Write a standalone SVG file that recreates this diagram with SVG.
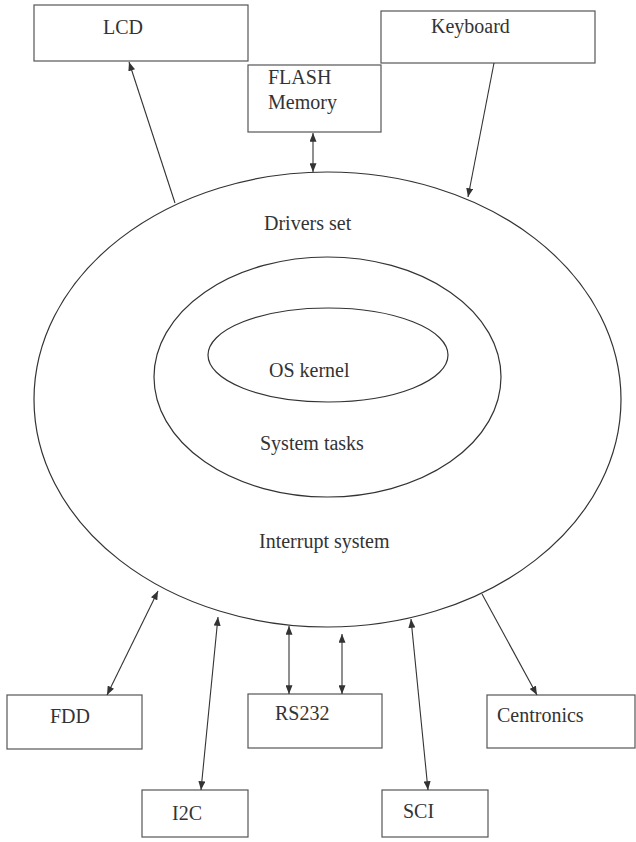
<svg xmlns="http://www.w3.org/2000/svg" width="636" height="842" viewBox="0 0 636 842">
<style>
.box{fill:none;stroke:#555;stroke-width:1.2}
.ell{fill:none;stroke:#333;stroke-width:1.2}
.lbl{font-family:"Liberation Serif","Times New Roman",serif;font-size:20px;fill:#333}
.c{stroke:#333;stroke-width:1.1;fill:none}
</style>
<defs>
<marker id="ah" viewBox="0 0 10 8" refX="10" refY="4" markerWidth="9" markerHeight="7" markerUnits="userSpaceOnUse" orient="auto-start-reverse">
<path d="M0,0 L10,4 L0,8 z" fill="#333"/>
</marker>
</defs>
<rect width="636" height="842" fill="#fff"/>
<g id="core">
<ellipse class="ell" cx="327.5" cy="399.5" rx="293.5" ry="227.5"/>
<ellipse class="ell" cx="327.5" cy="377" rx="173.5" ry="120"/>
<ellipse class="ell" cx="328" cy="355" rx="120" ry="47"/>
<text class="lbl" x="264" y="230">Drivers set</text>
<text class="lbl" x="269" y="377">OS kernel</text>
<text class="lbl" x="260" y="450">System tasks</text>
<text class="lbl" x="259" y="548">Interrupt system</text>
</g>
<g id="lcd"><rect class="box" x="34" y="5" width="214" height="56"/><text class="lbl" x="103" y="34">LCD</text></g>
<g id="keyboard"><rect class="box" x="381" y="11" width="214" height="52"/><text class="lbl" x="431" y="33">Keyboard</text></g>
<g id="flash"><rect class="box" x="248" y="65" width="133" height="67"/><text class="lbl" x="268" y="84">FLASH</text><text class="lbl" x="268" y="109">Memory</text></g>
<g id="fdd"><rect class="box" x="7" y="695" width="135" height="54"/><text class="lbl" x="50" y="723">FDD</text></g>
<g id="rs232"><rect class="box" x="248" y="694" width="134" height="54"/><text class="lbl" x="275" y="720">RS232</text></g>
<g id="centronics"><rect class="box" x="487" y="695" width="148" height="53"/><text class="lbl" x="497" y="722">Centronics</text></g>
<g id="i2c"><rect class="box" x="142" y="790" width="106" height="47"/><text class="lbl" x="172" y="820">I2C</text></g>
<g id="sci"><rect class="box" x="382" y="790" width="106" height="47"/><text class="lbl" x="403" y="818">SCI</text></g>
<g id="connectors">
<line class="c" x1="175" y1="203" x2="129" y2="62" marker-end="url(#ah)"/>
<line class="c" x1="494" y1="63" x2="468" y2="197" marker-end="url(#ah)"/>
<line class="c" x1="313" y1="133" x2="313" y2="172" marker-start="url(#ah)" marker-end="url(#ah)"/>
<line class="c" x1="158" y1="591" x2="107" y2="695" marker-start="url(#ah)" marker-end="url(#ah)"/>
<line class="c" x1="218" y1="617" x2="201" y2="790" marker-start="url(#ah)" marker-end="url(#ah)"/>
<line class="c" x1="289" y1="626" x2="289" y2="694" marker-start="url(#ah)" marker-end="url(#ah)"/>
<line class="c" x1="342" y1="634" x2="342" y2="694" marker-start="url(#ah)" marker-end="url(#ah)"/>
<line class="c" x1="411" y1="619" x2="428" y2="790" marker-start="url(#ah)" marker-end="url(#ah)"/>
<line class="c" x1="482" y1="594" x2="537" y2="695" marker-end="url(#ah)"/>
</g>
</svg>
